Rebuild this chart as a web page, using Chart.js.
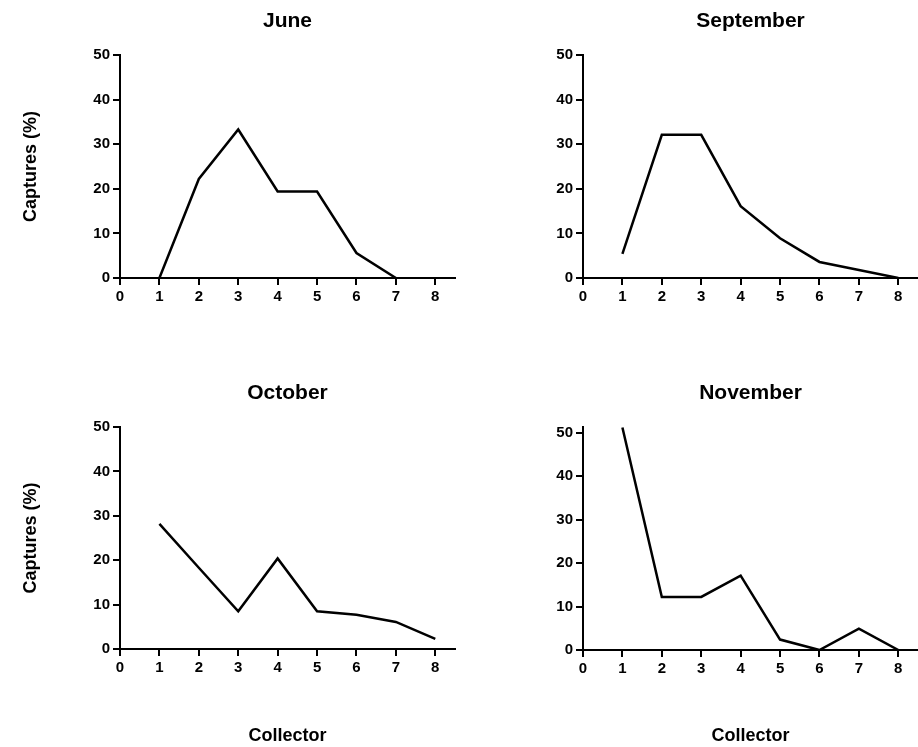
<!DOCTYPE html>
<html>
<head>
<meta charset="utf-8">
<title>Captures by collector</title>
<script src="https://cdn.jsdelivr.net/npm/chart.js@4.4.1/dist/chart.umd.min.js"></script>
<style>
    html, body { margin: 0; padding: 0; background: #fff; }
    body { width: 918px; height: 747px; position: relative; overflow: hidden; }
    canvas { position: absolute; }
</style>
</head>
<body>
<canvas id="juneChart" width="459" height="350" style="left:0;top:0"></canvas>
<canvas id="septemberChart" width="459" height="350" style="left:459px;top:0"></canvas>
<canvas id="octoberChart" width="459" height="397" style="left:0;top:350px"></canvas>
<canvas id="novemberChart" width="459" height="397" style="left:459px;top:350px"></canvas>

<script>
const collectors = [1, 2, 3, 4, 5, 6, 7, 8];
const xTicks = [0, 1, 2, 3, 4, 5, 6, 7, 8];
const yTicks = [0, 10, 20, 30, 40, 50];

const juneCaptures = [0, 22.2, 33.3, 19.4, 19.4, 5.6, 0, null];
const septemberCaptures = [5.4, 32.1, 32.1, 16.1, 8.9, 3.6, 1.8, 0];
const octoberCaptures = [28.2, 18.3, 8.5, 20.4, 8.5, 7.7, 6.1, 2.3];
const novemberCaptures = [51.2, 12.2, 12.2, 17.1, 2.4, 0, 4.9, 0];

Chart.defaults.font.family = '"Liberation Sans", Arial, Helvetica, sans-serif';
Chart.defaults.font.weight = 'bold';
Chart.defaults.color = '#000';

function makePanel(canvasId, monthName, captures, layout) {
    const points = collectors.map((c, i) => ({ x: c, y: captures[i] }));

    const axisGrid = {
        display: true,
        drawOnChartArea: false,
        drawTicks: true,
        tickLength: 7,
        lineWidth: 2,
        color: "#000"
    };
    const axisBorder = { display: true, color: "#000", width: 2 };

    return new Chart(document.getElementById(canvasId), {
        type: "line",
        data: {
            datasets: [{
                data: points,
                xAxisID: "x",
                yAxisID: "y",
                borderColor: "#000",
                borderWidth: 2.5,
                pointRadius: 0,
                tension: 0,
                fill: false
            }]
        },
        options: {
            responsive: false,
            animation: false,
            layout: { padding: { left: 0, right: layout.padRight, top: 0, bottom: 0 } },
            plugins: {
                legend: { display: false },
                tooltip: { enabled: false }
            },
            scales: {
                x: {
                    type: "linear",
                    position: "bottom",
                    min: 0,
                    max: 8.5,
                    afterBuildTicks: s => { s.ticks = xTicks.map(v => ({ value: v })); },
                    grid: axisGrid,
                    border: axisBorder,
                    ticks: { font: { size: 15, weight: "bold" }, padding: 3, maxRotation: 0, autoSkip: false },
                    title: {
                        display: layout.showCollector,
                        text: "Collector",
                        font: { size: 18, weight: "bold" },
                        padding: { top: 0, bottom: 0 }
                    },
                    afterFit: s => { s.height = layout.xHeight; }
                },
                xTop: {
                    type: "linear",
                    position: "top",
                    min: 0,
                    max: 8.5,
                    grid: { display: false },
                    border: { display: false },
                    ticks: { display: false },
                    title: {
                        display: true,
                        text: monthName,
                        font: { size: 21, weight: "bold" },
                        padding: { top: layout.titlePad, bottom: 0 }
                    },
                    afterFit: s => { s.height = layout.topHeight; }
                },
                y: {
                    type: "linear",
                    position: "left",
                    min: 0,
                    max: layout.yMax,
                    afterBuildTicks: s => { s.ticks = yTicks.map(v => ({ value: v })); },
                    grid: axisGrid,
                    border: axisBorder,
                    ticks: { font: { size: 15, weight: "bold" }, padding: 3 },
                    title: {
                        display: layout.showCaptures,
                        text: "Captures (%)",
                        font: { size: 18, weight: "bold" },
                        padding: { top: 20, bottom: 0 }
                    },
                    afterFit: s => { s.width = layout.yWidth; }
                }
            }
        }
    });
}

makePanel("juneChart", "June", juneCaptures, {
    topHeight: 55, xHeight: 72, yWidth: 120, padRight: 4, titlePad: 9,
    yMax: 50, showCaptures: true, showCollector: false
});
makePanel("septemberChart", "September", septemberCaptures, {
    topHeight: 55, xHeight: 72, yWidth: 124, padRight: 0, titlePad: 9,
    yMax: 50, showCaptures: false, showCollector: false
});
makePanel("octoberChart", "October", octoberCaptures, {
    topHeight: 77, xHeight: 98, yWidth: 120, padRight: 4, titlePad: 31,
    yMax: 50, showCaptures: true, showCollector: true
});
makePanel("novemberChart", "November", novemberCaptures, {
    topHeight: 77, xHeight: 97, yWidth: 124, padRight: 0, titlePad: 31,
    yMax: 51.3, showCaptures: false, showCollector: true
});
</script>
</body>
</html>
